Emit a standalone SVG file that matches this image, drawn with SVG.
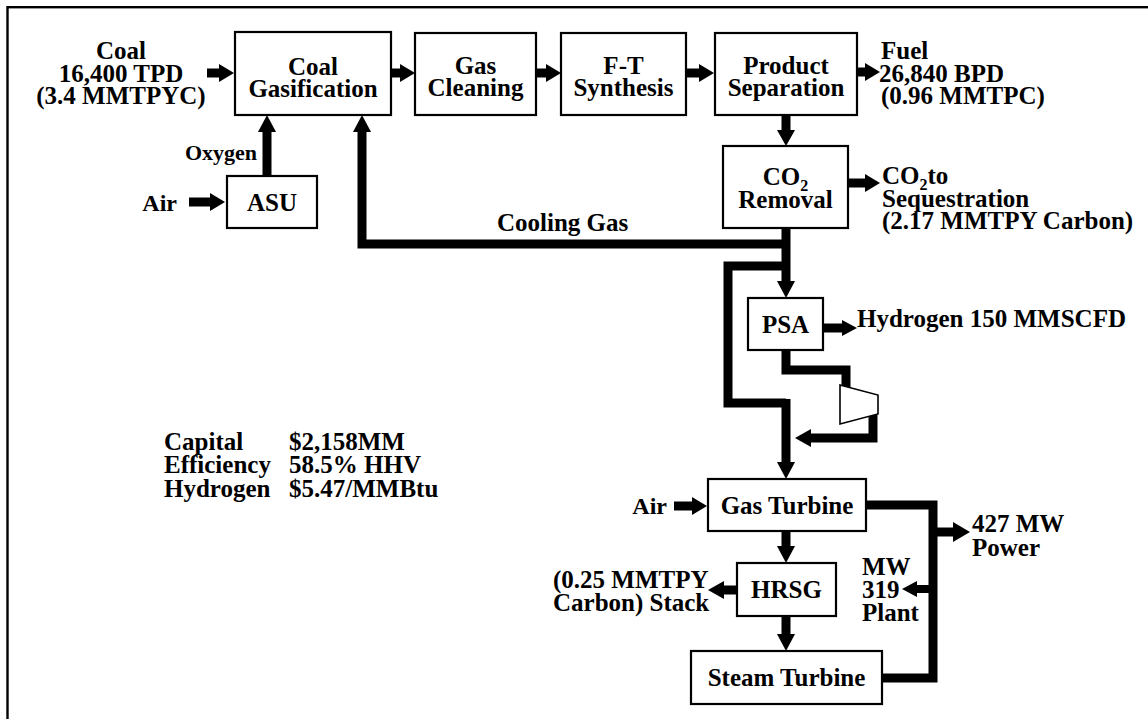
<svg xmlns="http://www.w3.org/2000/svg" width="1148" height="719" viewBox="0 0 1148 719">
<style>
.bg{fill:#fff}
.frame{fill:none;stroke:#000;stroke-width:2.4}
.box{fill:#fff;stroke:#000;stroke-width:2.2}
.t{font-family:"Liberation Serif","Times New Roman",serif;font-weight:bold;font-size:25px;fill:#000}
.m{text-anchor:middle}
.e{text-anchor:end}
.sub{font-size:16px}
.pipe{fill:none;stroke:#000;stroke-width:9;stroke-linejoin:miter;stroke-linecap:butt}
.head{fill:#000;stroke:none}
.comp{fill:#fff;stroke:#000;stroke-width:1.6}
</style>
<rect class="bg" x="0" y="0" width="1148" height="719"/>
<rect class="frame" x="7.5" y="7.2" width="1160" height="740"/>

<g id="connectors">
  <!-- coal feed -->
  <path class="pipe" d="M207,73H220"/><polygon class="head" points="219,64 234,73 219,82"/>
  <!-- top row -->
  <path class="pipe" d="M391,73H401"/><polygon class="head" points="400,64 415,73 400,82"/>
  <path class="pipe" d="M536,73H547"/><polygon class="head" points="546,64 561,73 546,82"/>
  <path class="pipe" d="M686,73H700"/><polygon class="head" points="699,64 714,73 699,82"/>
  <!-- fuel out -->
  <path class="pipe" d="M857,72H866"/><polygon class="head" points="865,63 880,72 865,81"/>
  <!-- product sep to CO2 removal -->
  <path class="pipe" d="M786,115V131"/><polygon class="head" points="777,130 786,146 795,130"/>
  <!-- CO2 out -->
  <path class="pipe" d="M848,183H866"/><polygon class="head" points="865,174 880,183 865,192"/>
  <!-- air to ASU -->
  <path class="pipe" d="M189,202H211"/><polygon class="head" points="210,193 225,202 210,211"/>
  <!-- oxygen -->
  <path class="pipe" d="M267,176V131"/><polygon class="head" points="258,132 267,115 276,132"/>
  <!-- cooling gas -->
  <path class="pipe" d="M786,244H362V131"/><polygon class="head" points="353,132 362,115 371,132"/>
  <!-- trunk CO2 removal to PSA -->
  <path class="pipe" d="M786,228V282"/><polygon class="head" points="777,281 786,298 795,281"/>
  <!-- bypass -->
  <path class="pipe" d="M786,266H728V403H786"/>
  <!-- hydrogen out -->
  <path class="pipe" d="M823,328H843"/><polygon class="head" points="842,320 857,328 842,336"/>
  <!-- PSA to compressor -->
  <path class="pipe" d="M786,350V370H846V388"/>
  <!-- compressor return -->
  <path class="pipe" d="M873,414V438H810"/><polygon class="head" points="811,429 795,438 811,447"/>
  <!-- trunk to gas turbine -->
  <path class="pipe" d="M786,399V463"/><polygon class="head" points="777,462 786,479 795,462"/>
  <!-- air to GT -->
  <path class="pipe" d="M674,506H693"/><polygon class="head" points="692,497 707,506 692,515"/>
  <!-- GT to HRSG -->
  <path class="pipe" d="M786,531V547"/><polygon class="head" points="777,546 786,563 795,546"/>
  <!-- HRSG to stack -->
  <path class="pipe" d="M737,590H723"/><polygon class="head" points="724,581 708,590 724,599"/>
  <!-- HRSG to ST -->
  <path class="pipe" d="M786,616V635"/><polygon class="head" points="777,634 786,651 795,634"/>
  <!-- power bus -->
  <path class="pipe" d="M866,505H933V678H882"/>
  <path class="pipe" d="M933,532H954"/><polygon class="head" points="953,522 970,532 953,542"/>
  <path class="pipe" d="M933,589H916" style="stroke-width:8"/><polygon class="head" points="917,581 902,589 917,597"/>
  <!-- compressor -->
  <polygon class="comp" points="840,385 878,395 878,414 840,424"/>
</g>

<g id="coal-label">
  <text class="t m" x="121" y="59">Coal</text>
  <text class="t m" x="121" y="82">16,400 TPD</text>
  <text class="t m" x="121" y="104">(3.4 MMTPYC)</text>
</g>
<g id="coal-gasification">
  <rect class="box" x="235" y="32" width="156" height="83"/>
  <text class="t m" x="313" y="75">Coal</text>
  <text class="t m" x="313" y="97">Gasification</text>
</g>
<g id="gas-cleaning">
  <rect class="box" x="415" y="33" width="121" height="82"/>
  <text class="t m" x="475.5" y="74">Gas</text>
  <text class="t m" x="475.5" y="96">Cleaning</text>
</g>
<g id="ft-synthesis">
  <rect class="box" x="561" y="33" width="125" height="82"/>
  <text class="t m" x="623.5" y="74">F-T</text>
  <text class="t m" x="623.5" y="96">Synthesis</text>
</g>
<g id="product-separation">
  <rect class="box" x="715" y="33" width="142" height="82"/>
  <text class="t m" x="786" y="74">Product</text>
  <text class="t m" x="786" y="96">Separation</text>
</g>
<g id="fuel-label">
  <text class="t" x="881" y="59">Fuel</text>
  <text class="t" x="879" y="82">26,840 BPD</text>
  <text class="t" x="881" y="104">(0.96 MMTPC)</text>
</g>
<g id="co2-removal">
  <rect class="box" x="723" y="146" width="125" height="82"/>
  <text class="t m" x="785.5" y="185">CO<tspan class="sub" dy="6">2</tspan></text>
  <text class="t m" x="785.5" y="208">Removal</text>
</g>
<g id="co2-label">
  <text class="t" x="882" y="184">CO<tspan class="sub" dy="6">2</tspan><tspan dy="-6">to</tspan></text>
  <text class="t" x="882" y="207">Sequestration</text>
  <text class="t" x="882" y="229">(2.17 MMTPY Carbon)</text>
</g>
<g id="asu">
  <rect class="box" x="227" y="176" width="90" height="52"/>
  <text class="t m" x="272" y="211">ASU</text>
</g>
<g id="asu-labels">
  <text class="t e" x="257" y="160" style="font-size:22px">Oxygen</text>
  <text class="t e" x="177" y="211" style="font-size:24px">Air</text>
</g>
<g id="cooling-gas-label">
  <text class="t" x="497" y="231">Cooling Gas</text>
</g>
<g id="psa">
  <rect class="box" x="748" y="298" width="75" height="52"/>
  <text class="t m" x="785.5" y="333">PSA</text>
</g>
<g id="hydrogen-label">
  <text class="t" x="857" y="327">Hydrogen 150 MMSCFD</text>
</g>
<g id="summary">
  <text class="t" x="164" y="450">Capital</text>
  <text class="t" x="164" y="473">Efficiency</text>
  <text class="t" x="164" y="497">Hydrogen</text>
  <text class="t" x="289" y="450">$2,158MM</text>
  <text class="t" x="289" y="473">58.5% HHV</text>
  <text class="t" x="289" y="497">$5.47/MMBtu</text>
</g>
<g id="gas-turbine">
  <rect class="box" x="708" y="479" width="158" height="52"/>
  <text class="t m" x="787" y="514">Gas Turbine</text>
</g>
<g id="gt-air-label">
  <text class="t e" x="667" y="514" style="font-size:24px">Air</text>
</g>
<g id="hrsg">
  <rect class="box" x="737" y="563" width="99" height="53"/>
  <text class="t m" x="786.5" y="598">HRSG</text>
</g>
<g id="stack-label">
  <text class="t" x="553" y="588">(0.25 MMTPY</text>
  <text class="t" x="553" y="611">Carbon) Stack</text>
</g>
<g id="steam-turbine">
  <rect class="box" x="691" y="651" width="191" height="53"/>
  <text class="t m" x="786.5" y="686">Steam Turbine</text>
</g>
<g id="power-label">
  <text class="t" x="972" y="532">427 MW</text>
  <text class="t" x="972" y="556">Power</text>
</g>
<g id="plant-label">
  <text class="t" x="862" y="575">MW</text>
  <text class="t" x="862" y="598">319</text>
  <text class="t" x="862" y="621">Plant</text>
</g>
</svg>
